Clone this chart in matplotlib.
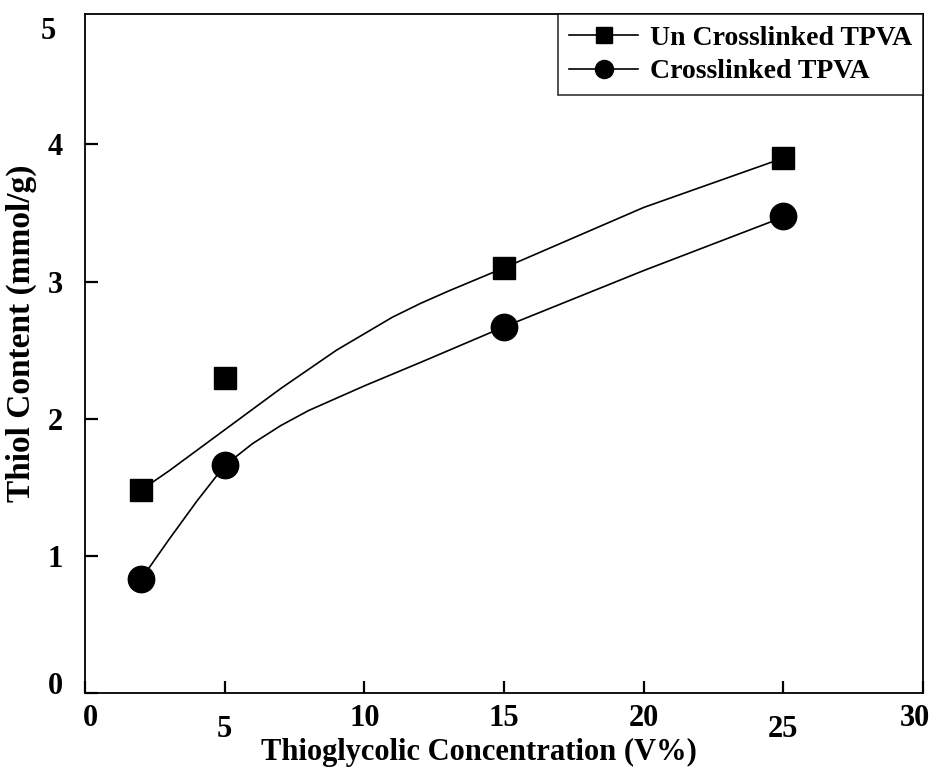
import matplotlib
matplotlib.use("Agg")
import matplotlib.pyplot as plt
from matplotlib.transforms import ScaledTranslation

plt.rcParams["font.family"] = ["Liberation Serif", "DejaVu Serif"]
plt.rcParams["font.weight"] = "bold"

# measured points
conc = [2, 5, 15, 25]
uncross = [1.48, 2.30, 3.10, 3.90]
cross = [0.83, 1.66, 2.67, 3.48]

# trend curves
ux = [2, 3, 4, 5, 6, 7, 8, 9, 10, 11, 12, 13, 15, 17.5, 20, 25]
uy = [1.48, 1.62, 1.77, 1.92, 2.07, 2.22, 2.36, 2.50, 2.62, 2.74, 2.84,
      2.93, 3.10, 3.32, 3.54, 3.90]
cx = [2, 3, 4, 5, 6, 7, 8, 9, 10, 12, 15, 20, 25]
cy = [0.83, 1.12, 1.40, 1.66, 1.82, 1.95, 2.06, 2.15, 2.24, 2.41, 2.67,
      3.08, 3.47]

xticks = [0, 5, 10, 15, 20, 25, 30]
yticks = [0, 1, 2, 3, 4]

fig = plt.figure(figsize=(9.36, 7.78), dpi=100)
ax = fig.add_axes([0.091, 0.109, 0.895, 0.873])

ax.plot(ux, uy, color="black", lw=1.2)
ax.plot(cx, cy, color="black", lw=1.2)
ax.plot(conc, uncross, ls="none", marker="s", ms=16, color="black")
ax.plot(conc, cross, ls="none", marker="o", ms=19, color="black")

# legend handles (line + marker)
h1, = ax.plot([], [], color="black", lw=1.2, marker="s", ms=11)
h2, = ax.plot([], [], color="black", lw=1.2, marker="o", ms=13)
leg = ax.legend([h1, h2], ["Un Crosslinked TPVA", "Crosslinked TPVA"],
                loc="upper right", borderaxespad=0, fancybox=False,
                frameon=True, handlelength=2.5, handletextpad=0.4,
                prop={"size": 20, "weight": "bold"}, labelspacing=0.3,
                borderpad=0.4)
leg.get_frame().set_edgecolor("black")
leg.get_frame().set_linewidth(1.2)

ax.set_xlim(0, 30)
ax.set_ylim(0, 4.95)
ax.set_xticks(xticks)
ax.set_yticks(yticks)
ax.set_xticklabels([str(t) for t in xticks])
ax.set_yticklabels([str(t) for t in yticks])
ax.tick_params(direction="in", length=9, width=1.6, labelsize=22)
ax.tick_params(axis="x", pad=8)
ax.tick_params(axis="y", pad=16)
for s in ax.spines.values():
    s.set_linewidth(1.3)

# the "5" label sits below the top edge in the original
ax.text(-0.035, 4.82, "5", transform=ax.get_yaxis_transform(),
        ha="right", va="center", fontsize=22, fontweight="bold")


def nudge(lab, dx, dy):
    lab.set_transform(lab.get_transform() +
                      ScaledTranslation(dx / 72, dy / 72, fig.dpi_scale_trans))


# scanned tick labels are a bit uneven
for lab in ax.get_xticklabels():
    t = lab.get_text()
    if t in ("5", "25"):
        nudge(lab, 0, -8)
    elif t == "0":
        nudge(lab, 4, 0)
    elif t == "30":
        nudge(lab, -6, 0)
for lab in ax.get_yticklabels():
    if lab.get_text() == "0":
        nudge(lab, 0, 7)

ax.set_xlabel("Thioglycolic Concentration (V%)", fontsize=22, fontweight="bold")
ax.set_ylabel("Thiol Content (mmol/g)", fontsize=24, fontweight="bold")
ax.xaxis.set_label_coords(0.47, -0.066)
ax.yaxis.set_label_coords(-0.058, 0.53)

fig.savefig("out.png", dpi=100)
